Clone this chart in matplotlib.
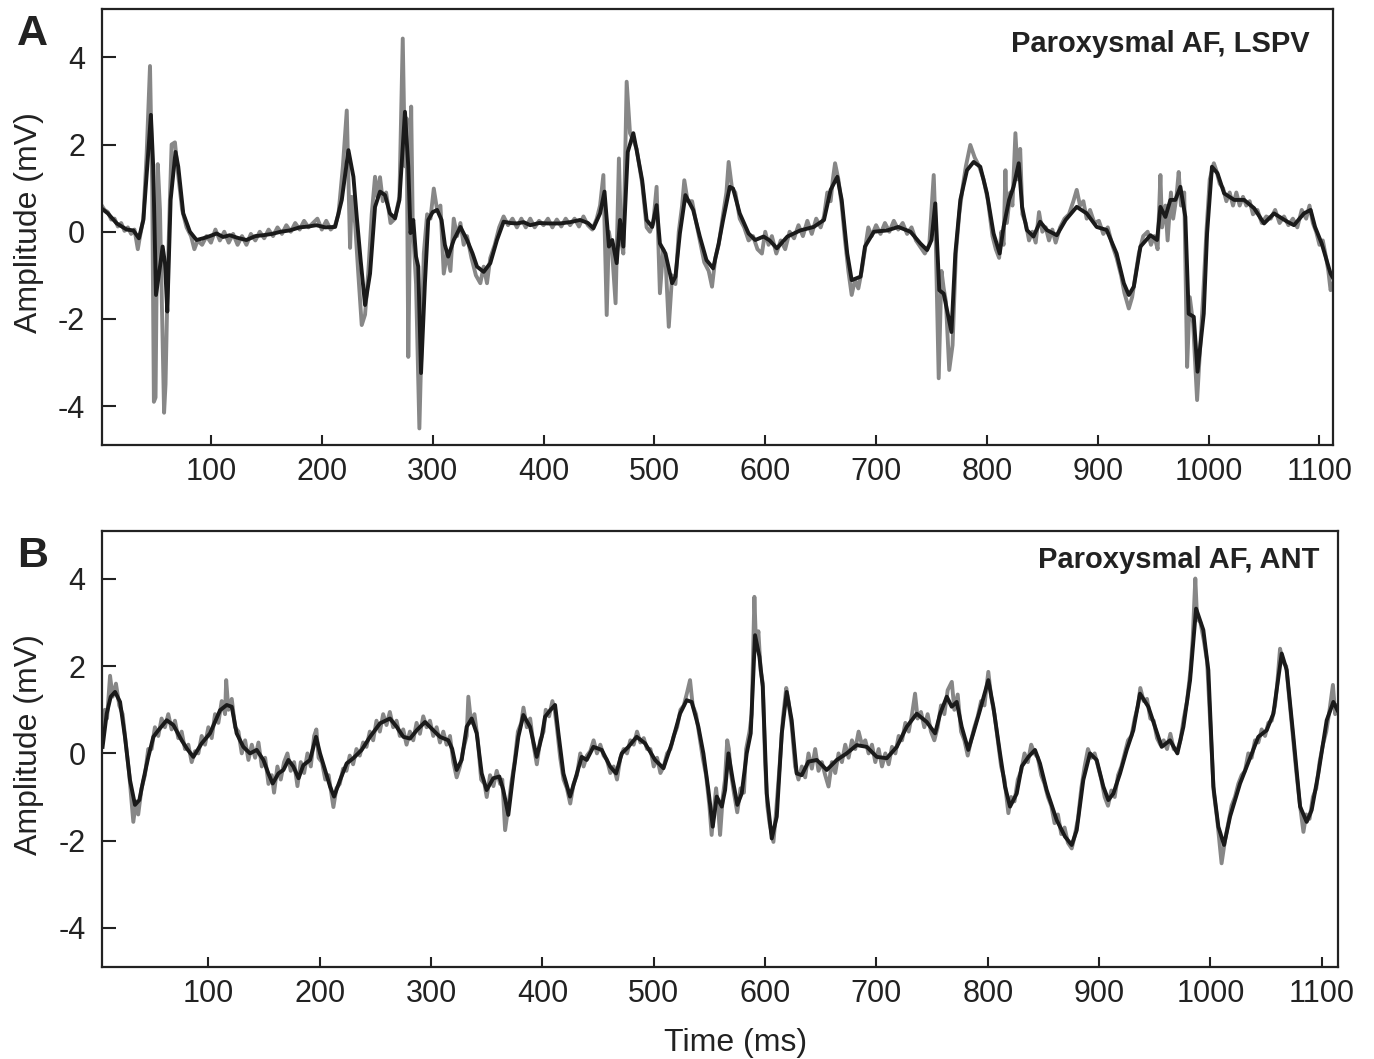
import matplotlib.pyplot as plt

# traces as (time ms, amplitude mV)
a_black = [(1, 0.54), (7, 0.42), (15, 0.19), (24, 0.05), (30, 0.03), (35, -0.15), (39, 0.27), (42.5, 1.49),
           (45.8, 2.68), (47.9, 1.49), (50.4, -1.45), (54, -0.8), (56.4, -0.34), (58.5, -0.72), (60.6, -1.83),
           (63.6, 0.73), (68, 1.83), (70.5, 1.49), (75, 0.42), (81, 0.0), (87, -0.19), (93, -0.15), (99, -0.1),
           (105, -0.04), (111, -0.12), (117, -0.08), (124, -0.14), (132, -0.19), (140, -0.1), (147, -0.08),
           (155, -0.05), (163, 0.0), (171, 0.03), (180, 0.1), (188, 0.12), (195, 0.15), (203, 0.1), (212, 0.11),
           (218, 0.73), (224, 1.87), (228.5, 1.26), (231.5, 0.34), (235, -0.65), (239, -1.68), (243.5, -0.96),
           (248, 0.57), (252.5, 0.92), (257, 0.84), (261.5, 0.42), (266, 0.31), (270, 0.73), (275, 2.75),
           (278, 1.49), (280, -0.03), (282.5, 0.27), (285, -0.57), (287, -0.8), (289.5, -3.24), (293, -1.18),
           (296, 0.27), (300, 0.45), (304, 0.5), (308, 0.27), (311, -0.3), (314, -0.57), (319, -0.19),
           (325, 0.11), (331, -0.19), (336, -0.5), (340, -0.8), (346, -0.92), (352, -0.72), (358, -0.19),
           (364, 0.23), (370, 0.2), (376, 0.19), (382, 0.22), (388, 0.15), (396, 0.2), (404, 0.19), (415, 0.19),
           (424, 0.22), (433, 0.27), (440, 0.2), (445, 0.08), (451, 0.42), (455, 0.92), (459, -0.34),
           (462, -0.19), (466, -0.72), (469, 0.27), (472, -0.34), (476, 1.83), (481, 2.26), (484, 1.87),
           (489, 1.18), (493, 0.27), (498, 0.11), (502, 0.61), (505, -0.27), (510, -0.5), (516, -1.18),
           (519, -1.03), (523, -0.04), (528, 0.84), (535, 0.5), (541, -0.11), (547, -0.65), (553, -0.84),
           (558, -0.27), (562, 0.27), (568, 1.03), (571, 0.99), (577, 0.42), (585, -0.04), (591, -0.19),
           (598.5, -0.11), (604, -0.2), (610.5, -0.38), (620, -0.11), (631.6, 0.03), (643.7, 0.11), (653, 0.27),
           (659, 0.96), (665, 1.26), (669, 0.73), (674, -0.5), (678, -1.11), (686, -1.03), (690, -0.34),
           (698, 0.0), (710, 0.03), (720, 0.11), (731, 0.0), (740, -0.27), (746, -0.42), (750, -0.19),
           (753.4, 0.65), (757, -1.34), (761, -1.42), (764, -1.8), (768, -2.3), (771.5, -0.5), (776, 0.73),
           (782, 1.41), (788, 1.6), (794, 1.49), (800, 0.88), (806, -0.04), (811.5, -0.5), (815, 0.11),
           (820, 0.73), (824, 1.03), (828.7, 1.57), (831.7, 0.57), (836, 0.04), (842, -0.11), (848, 0.23),
           (854, 0.04), (863, -0.08), (871, 0.27), (881, 0.57), (890, 0.42), (899, 0.11), (908, 0.04),
           (917, -0.5), (923.5, -1.18), (928, -1.45), (932.5, -1.26), (938.5, -0.34), (947.5, -0.08),
           (953.5, -0.19), (956.5, 0.57), (961, 0.34), (965.5, 0.73), (970, 0.73), (974.5, 1.03), (979, 0.34),
           (982, -1.88), (986.6, -1.95), (990, -3.21), (995.6, -1.88), (998.6, -0.04), (1003, 1.49),
           (1008, 1.34), (1014, 0.88), (1023, 0.73), (1032, 0.73), (1041, 0.54), (1050, 0.19), (1059, 0.42),
           (1071, 0.23), (1077, 0.15), (1086, 0.42), (1092, 0.5), (1096, 0.11), (1102, -0.27), (1110, -0.96),
           (1112, -1.05)]

a_gray = [(1, 0.62), (4, 0.5), (7, 0.45), (10, 0.28), (13, 0.3), (16, 0.12), (19, 0.2), (22, 0.02), (25, 0.1),
          (28, -0.05), (31, 0.05), (34, -0.4), (36, -0.1), (39, 0.3), (42, 1.8), (45, 3.8), (47, 1.0),
          (48.5, -3.9), (50, -3.8), (52, 1.55), (54, 0.5), (56, -2.0), (57.7, -4.15), (59, -3.5), (61, -1.0),
          (63, 0.8), (64.5, 2.0), (67.5, 2.05), (70, 1.4), (74, 0.5), (78, 0.1), (82, -0.1), (85, -0.4),
          (88, -0.2), (92, -0.3), (96, -0.1), (100, -0.25), (104, 0.05), (108, -0.2), (112, 0.0), (116, -0.25),
          (120, -0.05), (124, -0.3), (128, -0.1), (132, -0.3), (136, -0.05), (140, -0.2), (144, 0.0),
          (148, -0.15), (152, 0.05), (156, -0.1), (160, 0.1), (164, -0.05), (168, 0.15), (172, 0.0), (176, 0.2),
          (180, 0.05), (184, 0.25), (188, 0.1), (192, 0.2), (196, 0.3), (200, 0.05), (204, 0.25), (208, 0.05),
          (212, 0.15), (215, 0.4), (219, 1.5), (222.5, 2.78), (224, 1.2), (225.5, -0.37), (227, 0.8),
          (230, 0.2), (233, -1.0), (236, -2.14), (239, -1.9), (242, -0.9), (245, 0.4), (248, 1.26), (250, 0.8),
          (252.5, 1.25), (255, 0.7), (258, 0.9), (262, 0.2), (266, 0.3), (270, 0.8), (273, 4.43), (275, 1.5),
          (276.5, 2.6), (278, -2.87), (279.5, 0.0), (280.6, 2.87), (282, 0.2), (285, -1.2), (288, -4.51),
          (290, -2.5), (292, -0.5), (295, 0.4), (298, 0.3), (301, 0.99), (304, 0.5), (307, 0.6), (310, -0.96),
          (313, -0.5), (316, -0.9), (319, 0.3), (322, -0.1), (325, 0.2), (328, -0.3), (331, -0.1), (335, -0.6),
          (339, -1.0), (343, -1.18), (346, -0.8), (349, -1.18), (352, -0.6), (356, -0.3), (360, 0.1),
          (364, 0.35), (368, 0.15), (372, 0.3), (376, 0.1), (380, 0.3), (384, 0.1), (388, 0.3), (392, 0.1),
          (396, 0.25), (400, 0.15), (404, 0.3), (408, 0.1), (412, 0.28), (416, 0.12), (420, 0.3), (424, 0.15),
          (428, 0.3), (432, 0.12), (436, 0.35), (440, 0.15), (444, 0.05), (448, 0.3), (451, 0.6), (454, 1.3),
          (457, -1.91), (459, 0.0), (462, -0.5), (465, -1.64), (468, 1.68), (470, -0.2), (472, -0.5),
          (475, 3.44), (478, 2.26), (481, 2.1), (484, 1.9), (489, 1.1), (493, 0.1), (496, 0.0), (499, 0.2),
          (502, 1.03), (505, -1.41), (508, -0.4), (510, -0.6), (513, -2.18), (516, -1.0), (519, -1.2),
          (522, 0.0), (525, 0.6), (527, 1.18), (530, 0.7), (534, 0.7), (537, 0.3), (541, -0.2), (545, -0.7),
          (549, -0.9), (552, -1.26), (555, -0.6), (558, -0.3), (562, 0.4), (565, 0.9), (567, 1.6), (570, 1.0),
          (573, 0.9), (577, 0.3), (581, 0.1), (585, -0.2), (589, -0.1), (593, -0.4), (597, -0.5), (600, 0.0),
          (603, -0.3), (606, -0.1), (610, -0.5), (614, -0.2), (618, -0.4), (622, 0.0), (626, -0.15),
          (630, 0.15), (634, -0.1), (638, 0.25), (642, -0.05), (646, 0.3), (650, 0.1), (653, 0.35), (656, 0.9),
          (659, 0.7), (661, 1.2), (663, 1.57), (666, 1.2), (669, 0.6), (672, -0.2), (675, -0.9), (678, -1.45),
          (681, -1.1), (684, -1.3), (687, -0.9), (690, -0.4), (693, 0.1), (696, -0.1), (700, 0.15),
          (704, -0.05), (708, 0.2), (712, 0.0), (716, 0.25), (720, 0.05), (724, 0.2), (728, -0.05), (732, 0.1),
          (736, -0.2), (740, -0.35), (744, -0.5), (748, -0.3), (752, 1.3), (753.5, 0.2), (756.5, -3.36),
          (759, -0.9), (761, -1.3), (763, -1.6), (766, -3.17), (769, -2.6), (772, -0.5), (775, 0.4), (778, 1.0),
          (781, 1.5), (785, 1.99), (789, 1.7), (793, 1.5), (797, 1.2), (801, 0.7), (805, -0.1), (808, -0.4),
          (811, -0.6), (813, 0.0), (815, -0.3), (816.7, 1.41), (818, 0.2), (821, 0.9), (823, 0.6),
          (825.7, 2.26), (828, 1.2), (830, 1.9), (832, 0.4), (835, 0.2), (838, -0.2), (841, 0.0), (844, -0.25),
          (847, 0.45), (850, 0.0), (853, 0.1), (856, -0.2), (859, 0.05), (862, -0.25), (866, 0.1), (870, 0.3),
          (874, 0.4), (878, 0.7), (881, 0.96), (884, 0.6), (887, 0.7), (890, 0.3), (893, 0.5), (897, 0.2),
          (901, 0.25), (905, -0.05), (909, 0.1), (913, -0.3), (917, -0.6), (921, -1.0), (924, -1.4),
          (928, -1.76), (931, -1.5), (934, -1.0), (937, -0.5), (941, -0.1), (945, 0.0), (948, -0.3),
          (951, -0.1), (954, -0.4), (956.5, 1.3), (958, 0.1), (961, 0.6), (963, -0.2), (966, 0.9), (968, 0.3),
          (971, 0.8), (973, 1.37), (975, 0.6), (978, 0.9), (980.6, -3.1), (983, -1.5), (986, -2.1),
          (989.6, -3.86), (992, -2.8), (995, -1.5), (998, 0.0), (1001, 1.2), (1004.7, 1.57), (1007, 1.4),
          (1010, 1.1), (1013, 1.0), (1016, 0.7), (1019, 0.9), (1022, 0.6), (1025, 0.9), (1028, 0.6),
          (1031, 0.8), (1034, 0.6), (1037, 0.7), (1040, 0.4), (1044, 0.5), (1048, 0.2), (1052, 0.35),
          (1056, 0.3), (1060, 0.5), (1064, 0.2), (1068, 0.35), (1072, 0.15), (1076, 0.3), (1080, 0.1),
          (1084, 0.5), (1088, 0.3), (1091, 0.6), (1094, 0.2), (1097, 0.0), (1100, -0.3), (1103, -0.2),
          (1106, -0.6), (1108, -0.9), (1110, -1.34), (1112, -1.2)]

b_black = [(5, 0.15), (8.7, 0.91), (12.3, 1.3), (16.2, 1.41), (20.7, 1.18), (25.1, 0.38), (29.6, -0.61),
           (34.1, -1.18), (38, -1.07), (41.6, -0.61), (46.1, -0.08), (50.6, 0.38), (55.1, 0.53), (62.6, 0.76),
           (68.6, 0.65), (76, 0.3), (81, 0.1), (86.5, -0.08), (94, 0.23), (101.5, 0.46), (110.5, 0.99),
           (116.5, 1.11), (121, 1.07), (125.4, 0.46), (131.4, 0.15), (137.4, 0.0), (143.4, 0.08), (149.4, -0.15),
           (153.9, -0.46), (157.8, -0.69), (162.9, -0.46), (167.4, -0.38), (171.9, -0.15), (176.3, -0.3),
           (181, -0.57), (185.3, -0.27), (191.3, -0.15), (196.7, 0.38), (200.3, 0.0), (204.8, -0.38),
           (209.3, -0.76), (212.9, -0.99), (218.3, -0.61), (224.2, -0.23), (230.2, -0.11), (237.7, 0.08),
           (245.2, 0.38), (254.2, 0.69), (263.1, 0.8), (269.1, 0.61), (275.1, 0.38), (281.1, 0.34), (287.1, 0.53),
           (294.6, 0.72), (302, 0.53), (308, 0.38), (315.5, 0.3), (319, 0.1), (323, -0.38), (327.5, -0.15),
           (332, 0.61), (336.5, 0.8), (341, 0.46), (345.5, -0.46), (349.9, -0.84), (355.9, -0.57), (361.3, -0.53),
           (364.9, -0.84), (369.4, -1.41), (373.9, -0.46), (378.4, 0.38), (382.9, 0.88), (388.9, 0.61),
           (394.9, -0.08), (399.4, 0.38), (402.4, 0.84), (407, 0.99), (411.4, 1.11), (414.4, 0.46),
           (418.9, -0.46), (424.8, -0.99), (429.3, -0.61), (435.3, -0.08), (439.8, -0.15), (445.8, 0.15),
           (453.3, 0.08), (460.8, -0.3), (466.2, -0.46), (471.3, 0.0), (477.2, 0.15), (484.7, 0.38),
           (492.2, 0.23), (501.2, -0.15), (508.7, -0.34), (516.2, 0.23), (523.6, 0.91), (529.6, 1.22),
           (534.1, 1.18), (540.1, 0.61), (544.6, 0.0), (549.1, -0.84), (553, -1.68), (556.6, -0.99),
           (561.1, -1.22), (564.1, -0.84), (567.1, 0.0), (571, -0.61), (575.1, -1.18), (579, -0.92),
           (583.5, 0.0), (587.1, 0.46), (591, 2.71), (594.9, 2.22), (597.9, 1.53), (601.5, -0.92), (606, -1.95),
           (610.5, -1.45), (615, 0.46), (619.4, 1.41), (623.9, 0.76), (628.4, -0.46), (632.9, -0.5),
           (638.9, -0.19), (646.4, -0.15), (655.4, -0.38), (664.4, -0.15), (673.3, 0.0), (682.3, 0.19),
           (691.3, 0.15), (700.3, -0.08), (709.3, -0.11), (718.3, 0.15), (727.2, 0.61), (736.2, 0.91),
           (745.2, 0.72), (752.7, 0.46), (757.2, 0.91), (763.2, 1.3), (767.6, 1.07), (772.1, 1.18),
           (776.6, 0.61), (782.5, 0.08), (787, 0.46), (793, 0.99), (800.5, 1.68), (805, 1.07), (811, 0.0),
           (815.5, -0.76), (820, -1.22), (826, -0.92), (830.5, -0.3), (836.5, -0.08), (842.4, 0.08),
           (846.9, -0.23), (852.9, -0.84), (861.9, -1.53), (869.4, -1.91), (875.4, -2.1), (879.9, -1.76),
           (885.8, -0.61), (891.8, 0.0), (897.8, -0.15), (903.8, -0.76), (908.3, -1.07), (912.8, -0.92),
           (918.8, -0.46), (924.8, 0.08), (930.7, 0.53), (936.7, 1.37), (944.2, 1.07), (950.2, 0.61),
           (956.2, 0.15), (963.7, 0.3), (970.3, 0.0), (975.7, 0.61), (981.7, 1.68), (987.1, 3.32), (993.6, 2.83),
           (998.1, 1.91), (1002.6, -0.76), (1007.1, -1.68), (1012.2, -2.1), (1017.6, -1.45), (1026.6, -0.69),
           (1035.5, -0.11), (1043, 0.38), (1050.5, 0.53), (1056.5, 0.91), (1064, 2.29), (1068.5, 1.91),
           (1074.5, 0.38), (1080.5, -1.22), (1086.4, -1.57), (1090.9, -1.3), (1096.9, -0.46), (1104.4, 0.76),
           (1110.4, 1.18), (1114, 0.99)]

b_gray = [(5, 0.3), (7, 1.0), (9, 0.8), (11.7, 1.78), (14, 1.3), (17, 1.6), (20, 1.1), (23, 0.9), (26, 0.2),
          (29, -0.5), (32.6, -1.57), (35, -1.1), (37, -1.4), (40, -0.8), (43, -0.5), (46, 0.1), (49, 0.1),
          (52, 0.6), (55, 0.4), (58, 0.8), (61, 0.6), (64, 0.9), (67, 0.55), (70, 0.75), (73, 0.35), (76, 0.5),
          (79, 0.1), (82, 0.2), (85, -0.2), (88, 0.05), (91, 0.0), (94, 0.4), (97, 0.2), (100, 0.6), (103, 0.35),
          (106, 0.9), (109, 0.7), (112, 1.2), (115, 0.9), (116, 1.68), (118, 1.0), (121, 1.25), (124, 0.6),
          (127, 0.5), (130, 0.0), (133, 0.3), (136, -0.15), (139, 0.2), (142, -0.1), (145, 0.25), (148, -0.3),
          (151, -0.1), (154, -0.7), (157, -0.5), (159, -0.9), (162, -0.3), (165, -0.6), (168, -0.2), (171, 0.0),
          (174, -0.4), (177, -0.2), (180, -0.75), (183, -0.2), (186, -0.45), (189, 0.0), (192, -0.3),
          (195, 0.4), (197, 0.55), (199, -0.1), (202, -0.2), (205, -0.6), (208, -0.5), (211, -1.0),
          (212.3, -1.23), (215, -0.8), (218, -0.7), (221, -0.35), (224, -0.4), (227, -0.05), (230, -0.25),
          (233, 0.1), (236, -0.05), (239, 0.25), (242, 0.15), (245, 0.5), (248, 0.3), (251, 0.75), (254, 0.5),
          (257, 0.9), (260, 0.65), (263, 0.95), (266, 0.6), (269, 0.75), (272, 0.4), (275, 0.55), (278, 0.2),
          (281, 0.5), (284, 0.3), (287, 0.7), (290, 0.45), (293, 0.85), (296, 0.6), (299, 0.75), (302, 0.4),
          (305, 0.6), (308, 0.25), (311, 0.5), (314, 0.2), (317, 0.4), (320, -0.2), (323, -0.55), (326, -0.3),
          (329, 0.1), (332, 0.4), (333.5, 1.3), (336, 0.7), (339, 0.9), (342, 0.3), (345, -0.6), (348, -0.7),
          (350, -1.0), (353, -0.5), (356, -0.75), (359, -0.4), (362, -0.7), (364, -0.6), (366.5, -1.76),
          (369, -1.3), (372, -0.7), (375, -0.2), (378, 0.5), (381, 0.7), (383, 1.05), (386, 0.6), (389, 0.8),
          (392, 0.2), (395, -0.25), (398, 0.3), (401, 0.5), (403, 1.0), (406, 0.85), (409, 1.2), (411, 1.0),
          (413, 0.6), (416, -0.1), (419, -0.6), (422, -0.8), (425, -1.15), (428, -0.7), (431, -0.5), (434, 0.0),
          (437, -0.3), (440, -0.05), (443, 0.05), (446, 0.3), (449, 0.0), (452, 0.2), (455, -0.05),
          (458, -0.15), (461, -0.45), (464, -0.3), (467, -0.6), (470, -0.1), (473, 0.1), (476, 0.0), (479, 0.3),
          (482, 0.2), (485, 0.5), (488, 0.25), (491, 0.35), (494, 0.1), (497, 0.1), (500, -0.3), (503, -0.1),
          (506, -0.45), (509, -0.3), (512, 0.0), (515, 0.1), (518, 0.4), (521, 0.6), (524, 1.0), (527, 1.1),
          (530, 1.4), (532.6, 1.68), (535, 1.1), (538, 0.9), (541, 0.4), (544, -0.1), (547, -0.5), (550, -1.2),
          (552, -1.87), (554, -1.3), (556, -0.8), (558, -1.3), (559.6, -1.87), (562, -1.0), (564, -0.6),
          (566, 0.3), (567.5, 0.1), (569, -0.4), (572, -0.9), (575, -1.35), (578, -0.8), (581, -0.9),
          (583, 0.1), (586, 0.5), (588, 0.9), (590.4, 3.59), (592, 2.4), (594, 2.8), (596, 1.9), (598, 1.6),
          (600, -0.2), (602, -1.2), (604, -1.6), (607.5, -2.03), (610, -1.3), (613, -0.3), (616, 0.8),
          (619, 1.5), (621, 1.2), (624, 0.6), (627, -0.3), (630, -0.6), (633, -0.3), (636, -0.55), (639, 0.0),
          (642, -0.35), (645, 0.1), (648, -0.4), (651, -0.2), (654, -0.5), (657, -0.76), (660, -0.2),
          (663, -0.45), (666, 0.0), (669, -0.2), (672, 0.2), (675, -0.1), (678, 0.3), (681, 0.1), (684, 0.5),
          (687, 0.2), (690, 0.3), (693, 0.0), (696, 0.2), (699, -0.2), (702, 0.1), (705, -0.3), (708, 0.0),
          (711, -0.25), (714, 0.15), (717, 0.0), (720, 0.4), (723, 0.3), (726, 0.7), (729, 0.5), (732, 0.9),
          (734.7, 1.37), (737, 0.8), (740, 0.95), (743, 0.6), (746, 0.9), (749, 0.5), (752, 0.3), (755, 0.6),
          (758, 1.1), (761, 0.9), (764, 1.45), (767.7, 1.64), (770, 1.0), (773, 1.35), (776, 0.5), (779, 0.3),
          (782, -0.05), (785, 0.3), (788, 0.6), (791, 0.85), (794, 1.2), (797, 1.1), (800.5, 1.87), (803, 1.3),
          (806, 0.9), (809, 0.3), (812, -0.3), (815, -0.6), (818.5, -1.37), (821, -1.0), (824, -1.1),
          (827, -0.6), (830, -0.4), (833, 0.0), (836, -0.2), (839, 0.2), (842, 0.0), (845, -0.1), (848, -0.5),
          (851, -0.7), (854, -1.0), (857, -1.2), (860, -1.6), (863, -1.4), (866, -1.85), (869, -1.7),
          (872, -2.05), (875.4, -2.18), (878, -1.9), (881, -1.5), (884, -0.8), (887, -0.3), (890, 0.1),
          (893, -0.1), (896, 0.0), (899, -0.3), (902, -0.6), (905, -1.0), (908, -1.2), (911, -0.85),
          (914, -1.0), (917, -0.5), (920, -0.3), (923, 0.0), (926, 0.3), (929, 0.4), (932, 0.8), (935, 1.1),
          (937, 1.5), (940, 1.2), (943, 1.25), (946, 0.8), (949, 0.75), (952, 0.35), (955, 0.2), (958, 0.3),
          (961, 0.1), (964, 0.45), (967, 0.1), (970, 0.05), (973, 0.3), (976, 0.8), (979, 1.2), (982, 1.9),
          (984, 2.6), (986.4, 4.01), (988, 3.1), (991, 3.0), (994, 2.6), (997, 2.1), (1000, 0.6), (1003, -0.9),
          (1006, -1.5), (1008, -2.0), (1010, -2.52), (1013, -2.0), (1016, -1.6), (1019, -1.2), (1022, -1.0),
          (1025, -0.7), (1028, -0.5), (1031, -0.4), (1034, 0.0), (1037, -0.1), (1040, 0.3), (1043, 0.25),
          (1046, 0.55), (1049, 0.4), (1052, 0.7), (1055, 0.75), (1058, 1.1), (1060, 1.6), (1062.5, 2.4),
          (1065, 2.1), (1068, 2.0), (1071, 1.2), (1074, 0.4), (1077, -0.4), (1080, -1.1), (1083.5, -1.8),
          (1086, -1.4), (1089, -1.5), (1092, -1.0), (1095, -0.8), (1098, -0.2), (1101, 0.2), (1104, 0.5),
          (1107, 1.0), (1110, 1.57), (1112, 0.9), (1114, 1.1)]

x_ticks = [100, 200, 300, 400, 500, 600, 700, 800, 900, 1000, 1100]
y_ticks = [-4, -2, 0, 2, 4]

plt.rcParams['font.family'] = ['Liberation Sans', 'DejaVu Sans']
plt.rcParams['axes.unicode_minus'] = False

fig = plt.figure(figsize=(13.74, 10.59), dpi=100)
axA = fig.add_axes([0.0740, 0.5798, 0.8960, 0.4114])
axB = fig.add_axes([0.0745, 0.0872, 0.8995, 0.4114])

panels = [
    (axA, a_gray, a_black, (1.4, 1112), 'Paroxysmal AF, LSPV', 'A', 0.9815, 0.903),
    (axB, b_gray, b_black, (4.8, 1114.8), 'Paroxysmal AF, ANT', 'B', 0.985, 0.915),
]

for ax, gray, black, xlim, note, letter, nx, ny in panels:
    gt, gv = zip(*gray)
    bt, bv = zip(*black)
    ax.plot(gt, gv, color='#878787', lw=2.8, solid_joinstyle='round')
    ax.plot(bt, bv, color='#1a1a1a', lw=2.8, solid_joinstyle='round')
    ax.set_xlim(xlim)
    ax.set_ylim(-4.89, 5.10)
    ax.set_xticks(x_ticks)
    ax.set_yticks(y_ticks)
    ax.tick_params(axis='x', direction='in', length=7, width=1.5, labelsize=22, pad=9, colors='#222222')
    ax.tick_params(axis='y', direction='in', length=10, width=1.5, labelsize=22, pad=12, colors='#222222')
    for s in ax.spines.values():
        s.set_linewidth(1.6)
        s.set_color('#222222')
    ax.set_ylabel('Amplitude (mV)', fontsize=23, color='#222222')
    ax.yaxis.set_label_coords(-0.047, 0.51)
    ax.text(nx, ny, note, transform=ax.transAxes, ha='right', va='baseline',
            fontsize=21, fontweight='bold', color='#222222')
    pos = ax.get_position()
    fig.text(0.0124, pos.y1 - 0.034, letter, fontsize=31, fontweight='bold', color='#222222',
             va='baseline', ha='left')

fig.text(0.535, 0.008, 'Time (ms)', fontsize=23, color='#222222', ha='center', va='baseline')

fig.savefig('out.png', dpi=100)
